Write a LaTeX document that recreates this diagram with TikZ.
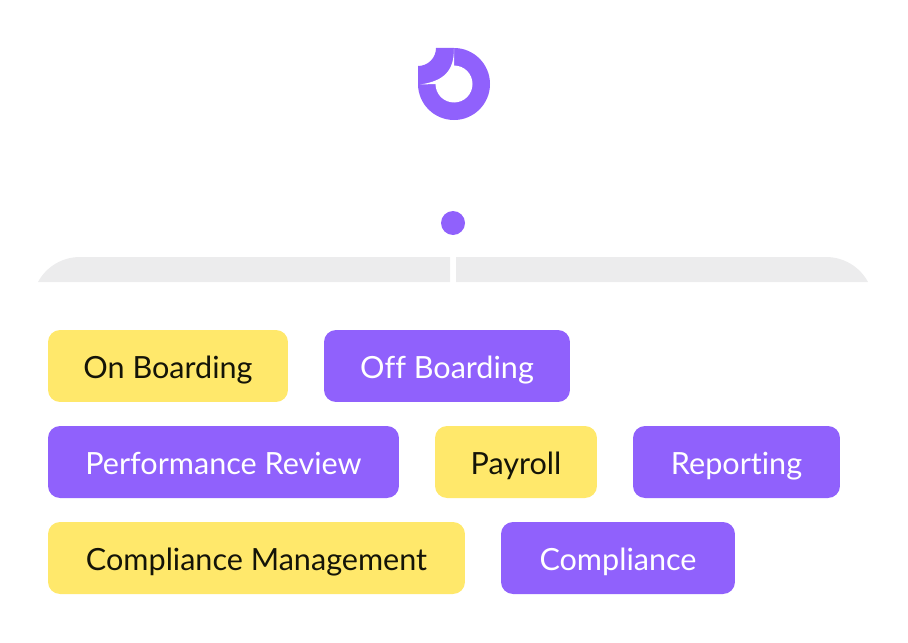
\documentclass[tikz,border=0pt]{standalone}
\usepackage{fontspec}
\setmainfont{Lato}[Ligatures=NoCommon]
\definecolor{tagpurple}{HTML}{9061FC}
\definecolor{tagyellow}{HTML}{FFE86B}
\definecolor{bargray}{HTML}{ECECED}
\definecolor{tagink}{HTML}{141408}
\tikzset{
  tag/.style={minimum height=1.44cm,inner sep=0pt,text height=0.58cm,text depth=0.1cm,rounded corners=0.24cm,font=\fontsize{17.4}{20}\selectfont},
  tagY/.style={tag,fill=tagyellow,text=tagink},
  tagP/.style={tag,fill=tagpurple,text=white},
}
\begin{document}
\begin{tikzpicture}[x=0.02cm,y=-0.02cm]
\useasboundingbox (0,0) rectangle (908,642);

% logo
\fill[tagpurple] (418,66) .. controls (428,66) and (436,58) .. (436,48) -- (454,48)
  arc[start angle=-90,end angle=180,radius=36] -- cycle;
\fill[white] (454,48.5) -- (454,65.5) arc[start angle=-90,end angle=180,radius=18.5]
  -- (420,84.5) .. controls (445,81) and (454,70) .. (454,48.5) -- cycle;

\node[circle,fill=tagpurple,minimum size=0.48cm,inner sep=0pt] (dot) at (453,223) {};

% bar
\fill[bargray] (38,282) .. controls (46,267) and (62,257) .. (80,257) -- (450,257) -- (450,282) -- cycle;
\fill[bargray] (868,282) .. controls (860,267) and (844,257) .. (826,257) -- (456,257) -- (456,282) -- cycle;

\node[tagY,minimum width=4.8cm] (onboarding) at (168,366) {On Boarding};
\node[tagP,minimum width=4.92cm] (offboarding) at (447,366) {Off Boarding};
\node[tagP,minimum width=7.02cm] (performance) at (223.5,462) {Performance Review};
\node[tagY,minimum width=3.24cm] (payroll) at (516,462) {Payroll};
\node[tagP,minimum width=4.14cm] (reporting) at (736.5,462) {Reporting};
\node[tagY,minimum width=8.34cm] (management) at (256.5,558) {Compliance Management};
\node[tagP,minimum width=4.68cm] (compliance) at (618,558) {Compliance};
\end{tikzpicture}
\end{document}
